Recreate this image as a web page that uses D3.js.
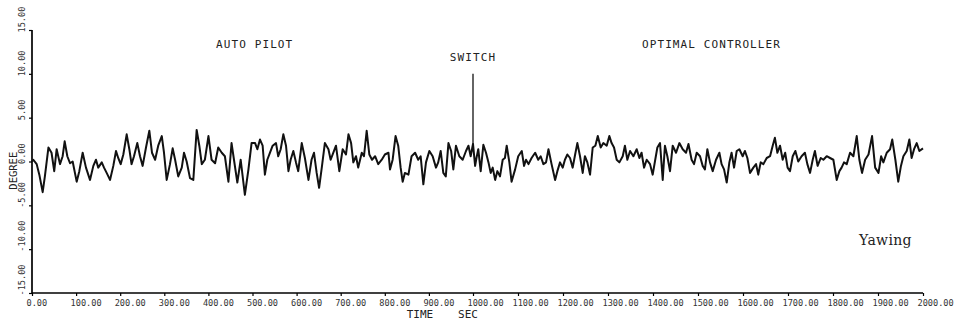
<!DOCTYPE html>
<html><head><meta charset="utf-8">
<script src="https://cdn.jsdelivr.net/npm/d3@7"></script>
<style>body{margin:0;background:#fff}svg{display:block}</style>
</head><body>
<svg id="c" width="963" height="322"></svg>
<script>
// ---- data ----
const timeSec = [
 0,3,10.6,16.6,24.2,29.2,37.3,44.3,50.4,55.9,63.5,69.5,74.1,80.1,86.2,92.2,101.3,107.3,114.9,122.4,131.5,139.1,145.1,150.2,158.2,163.3,169.3,176.9,184.4,190.5,195.5,201.1,207.1,214.7,220.7,225.7,231.3,238.8,244.9,250.9,258.5,266.1,272.1,279.2,286.2,294.3,299.3,305.4,312.9,319,324.5,331.6,339.6,344.7,350.7,358.3,365.8,373.4,379.4,385,392,400.1,407.2,415.2,422.3,430.3,437.4,445.4,452.5,458,465.6,473.2,482.7,490.8,497.9,505.9,511,
 517,523,528.1,533.6,539.7,545.7,553.3,558.3,563.9,569.9,576,581.5,586.5,592.6,598.6,603.7,611.7,618.8,626.9,633.9,639.4,645.5,651,657.1,664.1,672.2,677.2,683.3,689.3,696.9,704.5,712,717.6,723.6,728.6,734.7,739.7,747.8,752.8,758.9,764.9,771,778,785.1,793.1,800.2,808.3,811.8,817.8,824.4,830.4,835.9,840.5,845.5,853.6,860.7,868.7,875.8,881.3,887.4,893.4,901,908.5,916.1,921.1,926.7,932.7,938.3,944.3,950.4,955.4,961.4,969,976.6,984.1,989.7,994.7,1000,1004.7,1007.7,
 1011.7,1017.1,1023,1028.9,1034.4,1039.3,1043.8,1049.2,1054.1,1060,1066,1070.9,1074.9,1080.8,1085.7,1093.6,1100.5,1108.4,1113.4,1117.8,1123.3,1130.2,1138.1,1145,1150.4,1156.4,1162.3,1167.7,1174.6,1182.5,1187.5,1193.4,1199.3,1204.3,1209.7,1215.6,1221.5,1227,1231.9,1237.8,1243.8,1248.7,1254.1,1260.1,1266,1271.9,1277.3,1283.8,1289.7,1297.1,1303,1308,1313.4,1319.3,1325.3,1332.7,1337.6,1343,1349,1356.4,1363.8,1369.7,1374.6,1380.1,1386,1393.4,1399.3,1404.3,1409.7,1415.6,1421.6,1426.5,1431.9,1437.8,1443.8,1451.2,1458.6,1466,1473.4,1478.8,1485.8,1491.2,1497.1,1504.5,
 1510.4,1515.4,1520.8,1526.7,1532.7,1540.1,1547.5,1552.4,1557.9,1563.8,1569.7,1574.6,1580.1,1586,1591.9,1599.3,1604.3,1609.7,1615.6,1623,1629,1633.9,1639.3,1645.3,1652.7,1660.1,1666,1670.9,1676.4,1682.3,1688.2,1693.7,1699.1,1704.5,1710.5,1716.4,1722.8,1730.2,1737.6,1743,1749,1754.9,1759.8,1765.8,1772.7,1778.6,1786,1793.4,1800.8,1808.2,1814.2,1819.1,1824.5,1830.5,1837.9,1845.3,1852.7,1858.6,1864.5,1871.4,1878.9,1886.8,1893.7,1901.1,1907,1911.9,1919.4,1926.8,1931.7,1938.6,1945,1951,1956.4,1963.8,1969.7,1974.7,1980.1,1986,1991.9,2000
];
const yawDeg = [
 0.0,0.2,-0.3,-1.5,-3.5,-1.7,1.6,1.0,-1.1,1.4,-0.3,0.6,2.3,0.6,-0.2,0.0,-2.3,-1.1,1.0,-0.7,-2.1,-0.5,0.2,-0.7,-0.1,-0.7,-1.3,-2.1,-0.5,1.2,0.4,-0.3,0.8,3.1,1.4,-0.3,0.6,2.1,0.6,-0.5,1.6,3.5,1.0,0.2,1.8,2.9,1.0,-2.1,-0.3,1.5,0.2,-1.7,-0.7,1.0,0.0,-1.9,-2.1,3.6,1.8,-0.3,0.2,2.9,0.2,-0.2,1.6,1.0,0.6,-2.3,2.1,0.2,-2.4,0.2,-3.8,-0.9,2.1,2.1,1.4,
 2.5,1.8,-1.5,0.2,1.0,1.8,2.1,0.6,1.4,3.1,1.8,-1.1,0.2,1.2,-0.1,-1.1,2.1,0.4,-2.1,0.2,1.0,-1.3,-3.0,-0.7,2.1,1.4,0.2,1.0,1.8,-1.1,1.4,0.8,3.1,2.1,-0.1,0.6,-0.7,1.0,0.6,3.5,0.8,0.2,0.6,-0.3,0.2,0.8,1.0,-0.9,0.2,2.9,1.8,-0.7,-2.3,-1.3,-1.5,0.6,1.0,0.2,0.6,-2.6,-0.1,1.2,0.6,-0.7,-0.1,1.2,-1.3,-1.7,2.1,1.2,-0.9,1.8,0.6,0.2,1.2,1.8,0.6,2.0,-0.5,0.4,
 1.4,-1.1,1.9,1.0,-0.1,-1.3,-0.7,-2.1,-1.1,-1.7,0.2,0.4,1.8,-0.1,-2.3,-0.9,0.6,1.2,-0.5,0.2,-0.3,0.4,1.0,0.2,0.6,-0.3,-0.1,1.4,-0.3,-2.1,-1.1,-0.1,-0.7,0.2,0.8,0.4,-0.7,0.8,2.1,0.6,-1.3,0.6,-0.1,-1.5,1.6,1.8,2.9,1.6,2.1,1.8,2.9,2.1,1.6,0.2,-0.1,0.6,1.8,0.2,1.2,0.6,1.4,0.4,1.0,-0.7,0.2,-0.3,-1.5,0.0,1.6,2.1,-2.1,1.8,0.6,-1.1,1.8,1.0,2.1,1.4,1.0,2.0,0.2,-0.3,1.0,0.6,
 -0.5,-0.9,1.4,-0.1,-1.1,0.2,1.0,-0.3,-0.9,-2.4,-0.1,1.0,-0.7,1.2,1.4,0.6,1.2,0.4,-1.3,-0.7,-0.3,-1.5,-0.1,-0.3,0.4,0.6,1.8,2.7,1.0,1.8,0.2,1.0,-0.7,-1.1,0.6,1.2,0.0,0.6,1.0,-0.3,-1.3,0.2,1.2,-0.5,0.4,0.2,0.6,0.4,0.2,-2.1,-1.1,-0.7,-0.1,-0.3,1.0,0.6,2.9,0.2,-1.3,0.2,0.8,2.9,-0.7,-1.3,0.6,-0.1,1.0,1.4,2.5,0.2,-2.3,-0.5,0.6,1.2,2.5,0.4,1.4,2.1,1.2,1.5
];
const xTickValues = [0,100,200,300,400,500,600,700,800,900,1000,1100,1200,1300,1400,1500,1600,1700,1800,1900,2000];
const yTickValues = [-15,-10,-5,0,5,10,15];
const switchTime = 1000;
const switchTop = 10;
const phaseLabels = [
  {text:"AUTO PILOT", t:505, v:13.0},
  {text:"OPTIMAL CONTROLLER", t:1530, v:13.0},
  {text:"SWITCH", t:1000, v:11.5}
];

// ---- drawing ----
const svg = d3.select("#c");
// the plotted time axis of the scanned chart is slightly uneven: two linear pieces
const x = d3.scaleLinear().domain([0,1000,2000]).range([32,473,923]);
const y = d3.scaleLinear().domain([-15,15]).range([293,30]);
const mono = "'DejaVu Sans Mono', 'Liberation Mono', monospace";

// x axis
const gx = svg.append("g").attr("transform", `translate(0,${y(-15)})`)
  .call(d3.axisBottom(x).tickValues(xTickValues).tickSize(3).tickSizeOuter(0).tickFormat(d => d.toFixed(2)));
gx.select(".domain").remove();
gx.selectAll(".tick line").attr("stroke","#000").attr("stroke-width",1.2);
gx.selectAll(".tick text").attr("font-family",mono).attr("font-size",8.6).attr("fill","#333")
  .attr("text-anchor","start").attr("x",-6).attr("y",7);
svg.append("path").attr("d",`M${x(0)},${y(-15)}H${x(2000)}`)
  .attr("fill","none").attr("stroke","#000").attr("stroke-width",1.7);

// y axis
const gy = svg.append("g").attr("transform", `translate(${x(0)},0)`)
  .call(d3.axisLeft(y).tickValues(yTickValues).tickSize(3).tickSizeOuter(0).tickFormat(d => d.toFixed(2)));
gy.select(".domain").remove();
gy.selectAll(".tick line").attr("stroke","#000").attr("stroke-width",1.2);
gy.selectAll(".tick text").attr("font-family",mono).attr("font-size",8.6).attr("fill","#333")
  .attr("text-anchor","start").attr("x",0).attr("y",0).attr("dy",0)
  .attr("transform","translate(-7,2) rotate(-90)");
svg.append("path").attr("d",`M${x(0)},${y(-15)}V${y(15)}`)
  .attr("fill","none").attr("stroke","#000").attr("stroke-width",1.7);

// axis titles
svg.append("text").attr("transform",`translate(17,${y(-1.05)}) rotate(-90)`)
  .attr("text-anchor","middle").attr("font-family",mono).attr("font-size",10.5).attr("fill","#222").text("DEGREE");
svg.append("text").attr("x",420).attr("y",318).attr("text-anchor","middle")
  .attr("font-family",mono).attr("font-size",11).attr("fill","#222").text("TIME");
svg.append("text").attr("x",468).attr("y",318).attr("text-anchor","middle")
  .attr("font-family",mono).attr("font-size",11).attr("fill","#222").text("SEC");

// signal
const pts = timeSec.map((t,i)=>[t,yawDeg[i]]);
svg.append("path").datum(pts)
  .attr("d", d3.line().x(d=>x(d[0])).y(d=>y(d[1])))
  .attr("fill","none").attr("stroke","#111").attr("stroke-width",2).attr("stroke-linejoin","round");

// switch marker
const iSw = timeSec.indexOf(switchTime);
svg.append("line").attr("x1",x(switchTime)).attr("x2",x(switchTime))
  .attr("y1",y(switchTop)).attr("y2",y(yawDeg[iSw]))
  .attr("stroke","#111").attr("stroke-width",1.3);

// annotations
phaseLabels.forEach(l=>{
  svg.append("text").attr("x",x(l.t)).attr("y",y(l.v)).attr("text-anchor","middle")
    .attr("font-family",mono).attr("font-size",11).attr("letter-spacing",1.1).attr("fill","#222").text(l.text);
});
svg.append("text").attr("x",859).attr("y",245)
  .attr("font-family","'DejaVu Serif', serif").attr("font-size",14).attr("letter-spacing",0.3).attr("fill","#222").text("Yawing");
</script>
</body></html>
